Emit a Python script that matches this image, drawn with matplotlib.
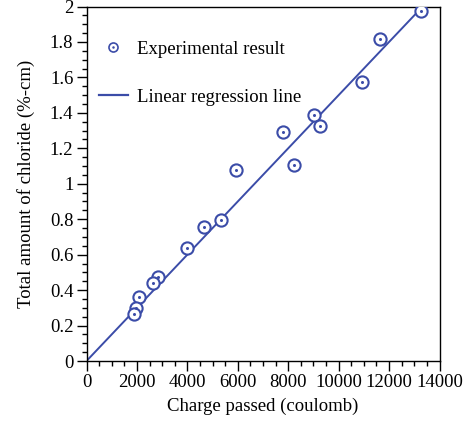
import matplotlib
matplotlib.use("Agg")
import matplotlib.pyplot as plt
from matplotlib.lines import Line2D
from matplotlib.legend_handler import HandlerTuple
from matplotlib.ticker import MultipleLocator

# Charge passed (coulomb) vs total chloride (%-cm)
charge = [13266, 11628, 10926, 9035, 9273, 7781, 8218, 5917,
          5346, 4660, 3998, 2848, 2649, 2094, 1963, 1896]
chloride = [1.975, 1.815, 1.576, 1.386, 1.326, 1.292, 1.107, 1.079,
            0.794, 0.758, 0.638, 0.472, 0.442, 0.363, 0.297, 0.265]

# Regression through the origin
fit_slope = 1.5e-4
fit_x = [0, 13266]

BLUE = "#3b4ca8"

plt.rcParams["font.family"] = ["Liberation Serif", "DejaVu Serif"]

fig = plt.figure(figsize=(4.7, 4.21), dpi=100)
ax = fig.add_axes([86.5 / 470, 1 - 361 / 421, 353 / 470, 354.5 / 421])

fit_y = [fit_slope * x for x in fit_x]
ax.plot(fit_x, fit_y, color=BLUE, lw=1.4, zorder=2)

ax.plot(charge, chloride, ls="none", marker="o", ms=8.8, mfc="white",
        mec=BLUE, mew=1.5, zorder=3)
ax.plot(charge, chloride, ls="none", marker="o", ms=2.2, mfc=BLUE,
        mec=BLUE, mew=0, zorder=4)

ax.set_xlim(0, 14000)
ax.set_ylim(0, 2)
ax.xaxis.set_major_locator(MultipleLocator(2000))
ax.xaxis.set_minor_locator(MultipleLocator(500))
ax.yaxis.set_major_locator(MultipleLocator(0.2))
ax.yaxis.set_minor_locator(MultipleLocator(0.05))
ax.yaxis.set_major_formatter(plt.FuncFormatter(lambda v, p: f"{v:g}"))

ax.tick_params(which="both", direction="out", labelsize=13.5, width=1.0,
               top=False, right=False, colors="black")
ax.tick_params(which="major", length=7, pad=2.5)
ax.tick_params(which="minor", length=3.5)
for s in ax.spines.values():
    s.set_linewidth(1.0)

ax.set_xlabel("Charge passed (coulomb)", fontsize=13.5, labelpad=5)
ax.set_ylabel("Total amount of chloride (%-cm)", fontsize=13.5, labelpad=11)

# legend proxies: ringed dot and line
ring = Line2D([], [], ls="none", marker="o", ms=6.5, mfc="white", mec=BLUE, mew=1.2)
dot = Line2D([], [], ls="none", marker="o", ms=1.8, mfc=BLUE, mec=BLUE, mew=0)
line = Line2D([], [], color=BLUE, lw=1.6)
ax.legend([(ring, dot), line], ["Experimental result", "Linear regression line"],
          handler_map={tuple: HandlerTuple(ndivide=1, pad=0)},
          loc="upper left", bbox_to_anchor=(0.035, 0.903), frameon=False,
          fontsize=13.5, borderpad=0, borderaxespad=0, labelspacing=1.62,
          handlelength=1.55, handletextpad=0.5)

fig.savefig("out.png", dpi=100)
